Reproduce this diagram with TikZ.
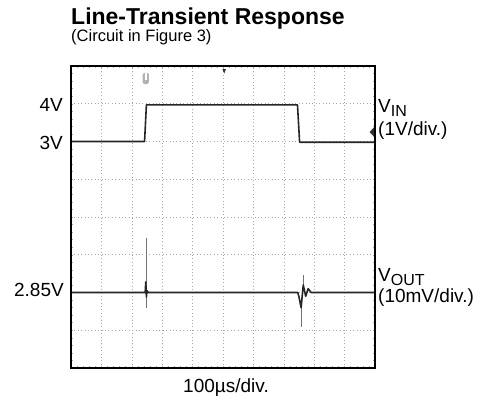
\documentclass[tikz,border=0pt]{standalone}
\usepackage{fontspec}
\setmainfont{Liberation Sans}
\begin{document}
\begin{tikzpicture}[
  x=1pt, y=-1pt,
  lbl/.style={inner sep=0pt, font=\fontsize{19}{21}\selectfont},
  gridline/.style={gray!70, line width=0.6pt, dash pattern=on 0.8pt off 2.6pt},
  trace/.style={line width=1.6pt, black!85, line join=round},
  spike/.style={line width=0.7pt, black!55}
]
\useasboundingbox (0,0) rectangle (489,398);

% titles
\node [anchor=base west, inner sep=0pt, font=\bfseries\fontsize{23}{25}\selectfont] (title) at (71,25) {Line-Transient Response};
\node [anchor=base west, lbl, font=\fontsize{16.5}{19}\selectfont] (subtitle) at (71,42) {(Circuit in Figure 3)};

% scope screen, one unit = one division
\begin{scope}[shift={(71,368)}, x=30.4pt, y=37.75pt]
  \foreach \i in {1,...,9}
    \draw [gridline] (\i,0) -- (\i,8);
  \foreach \j in {1,...,7}
    \draw [gridline] (0,\j) -- (10,\j);
  \foreach \t in {0.2,0.4,...,9.9} {
    \draw [gray!70, line width=0.5pt] (\t,0) -- (\t,0.06);
    \draw [gray!70, line width=0.5pt] (\t,8) -- (\t,7.94);
  }
  \foreach \t in {0.2,0.4,...,7.9} {
    \draw [gray!70, line width=0.5pt] (0,\t) -- (0.08,\t);
    \draw [gray!70, line width=0.5pt] (10,\t) -- (9.92,\t);
  }

  % markers
  \fill [gray!60, rounded corners=1.5pt] (2.36,7.82) rectangle (2.56,7.52);
  \fill [white] (2.42,7.82) rectangle (2.50,7.62);
  \fill [black!80] (4.98,7.92) -- (5.1,7.92) -- (5.04,7.8) -- cycle;
  \fill [black!80] (9.96,6.37) -- (9.96,6.13) -- (9.82,6.25) -- cycle;

  % V_IN trace
  \draw [trace] (0,6) -- (2.42,6) -- (2.48,6.97) -- (7.45,6.97) -- (7.52,5.98) -- (10,5.98);

  % V_OUT trace
  \draw [spike] (2.47,1.59) -- (2.47,3.44);
  \draw [spike] (7.57,1.09) -- (7.57,1.6);
  \draw [spike] (7.64,2.2) -- (7.64,2.46);
  \draw [trace] (0,2) -- (2.44,2) -- (2.46,2.28) -- (2.48,1.88) -- (2.5,2.05) -- (2.54,2)
    -- (7.46,2) -- (7.5,1.88) -- (7.57,1.6) -- (7.64,2.2) -- (7.72,1.9) -- (7.8,2.1)
    -- (7.9,2) -- (10,2);

  \draw [line width=2.2pt] (0,0) rectangle (10,8);
\end{scope}

% axis labels
\node [lbl, anchor=east] (lvfour) at (63,105) {4V};
\node [lbl, anchor=east] (lvthree) at (63,143) {3V};
\node [lbl, anchor=east] (lvout) at (64,290) {2.85V};
\node [lbl, anchor=base west] (vin) at (378,113) {V\raisebox{-4pt}{\fontsize{16}{16}\selectfont IN}};
\node [lbl, anchor=base west] (vindiv) at (378,136) {(1V/div.)};
\node [lbl, anchor=base west] (vout) at (378,281) {V\raisebox{-4pt}{\fontsize{16}{16}\selectfont OUT}};
\node [lbl, anchor=base west] (voutdiv) at (378,302) {(10mV/div.)};
\node [lbl, anchor=base] (timediv) at (226,392) {100µs/div.};
\end{tikzpicture}
\end{document}
